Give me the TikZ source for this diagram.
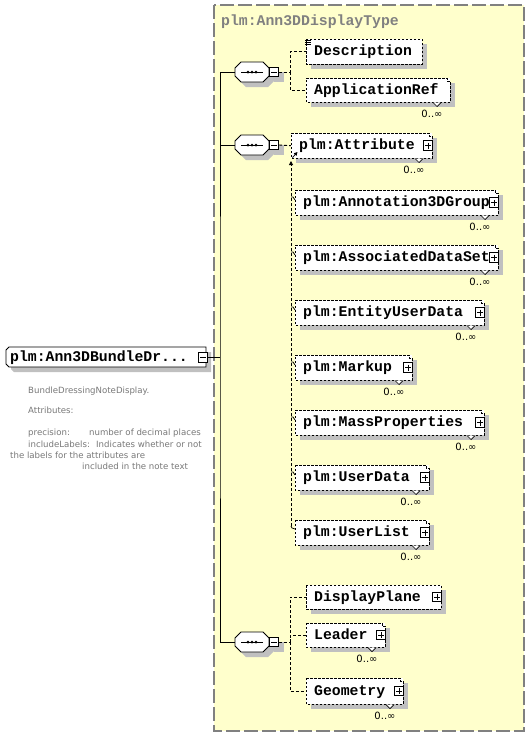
\documentclass[tikz,border=0pt]{standalone}
\usepackage{fontspec}
\newfontfamily\cour{Liberation Mono}
\newfontfamily\dvs{DejaVu Sans}
\usetikzlibrary{arrows.meta}
\definecolor{yel}{HTML}{FFFFCC}
\definecolor{shd}{HTML}{C0C0C0}
\definecolor{gr}{HTML}{808080}
\definecolor{notec}{HTML}{787878}
\tikzset{
  lbl/.style={font=\cour\bfseries\fontsize{14.8}{15}\selectfont, inner sep=0pt, anchor=base west},
  hdr/.style={lbl, text=gr},
  occ/.style={font=\dvs\fontsize{10}{11}\selectfont, inner sep=0pt},
  note/.style={font=\dvs\fontsize{8.6}{9}\selectfont, text=notec, inner sep=0pt, anchor=base west},
  ebox/.style={fill=white, draw=none, inner sep=0pt, anchor=north west, rectangle},
  dsh/.style={dash pattern=on 2.5pt off 1.5pt, line width=0.9pt},
  conn/.style={dash pattern=on 3pt off 2pt, line width=0.9pt},
  pmbox/.style={draw, fill=white, minimum size=9.5pt, inner sep=0pt, line width=0.8pt, rectangle},
  solidl/.style={line width=0.9pt},
}
% element box: name, l, t, r, b, text, multi, plus
\newcommand\elem[8]{%
  \fill[shd] (#2+5,#3+5) rectangle (#4+5,#5+5);
  \node[ebox, minimum width=#4-#2, minimum height=#5-#3] (#1) at (#2,#3) {};
  \ifnum#7=1
    \draw[dsh] (#2,#3) -- (#4-3,#3) -- (#4-3,#3+3) -- (#4,#3+3) -- (#4,#5) -- (#2,#5) -- cycle;
    \draw[line width=0.7pt, fill=white] (#4-17,#5+0.5) -- (#4-13,#5+4.5) -- (#4-9,#5+0.5);
    \node[occ] (#1-o) at (#4-18,#5+12) {0..∞};
  \else
    \draw[dsh] (#2,#3) rectangle (#4,#5);
  \fi
  \node[lbl] (#1-t) at (#2+8,{(#3+#5)/2+4}) {#6};
  \ifnum#8=1
    \node[pmbox] (#1-p) at (#4-4,{(#3+#5)/2}) {};
    \draw[line width=0.8pt] (#4-7,{(#3+#5)/2}) -- (#4-1,{(#3+#5)/2})
                            (#4-4,{(#3+#5)/2-3}) -- (#4-4,{(#3+#5)/2+3});
  \fi
}
% sequence compositor: name, cy
\newcommand\comp[2]{%
  \fill[shd] (246,#2-5) -- (268,#2-5) -- (274,#2+1) -- (274,#2+9) -- (268,#2+15) -- (246,#2+15) -- (240,#2+9) -- (240,#2+1) -- cycle;
  \fill[shd] (274,#2+0) rectangle (284,#2+10);
  \node[inner sep=0pt, minimum width=34pt, minimum height=20pt] (#1) at (252,#2) {};
  \draw[solidl, fill=white] (241,#2-10) -- (263,#2-10) -- (269,#2-4) -- (269,#2+4) -- (263,#2+10) -- (241,#2+10) -- (235,#2+4) -- (235,#2-4) -- cycle;
  \draw[line width=0.8pt] (241,#2) -- (263,#2);
  \fill (248,#2) circle (1.5) (252,#2) circle (1.5) (256,#2) circle (1.5);
  \node[pmbox] (#1-m) at (274,#2) {};
  \draw[line width=0.8pt] (271,#2) -- (277,#2);
}
\begin{document}
\begin{tikzpicture}[x=1pt, y=-1pt]
\useasboundingbox (0,0) rectangle (530,737);
\fill[white] (0,0) rectangle (530,737);
% complex type area
\draw[gr, fill=yel, dash pattern=on 14pt off 4pt, line width=1.1pt] (214,5) rectangle (524,731);
\node[hdr] (hdr) at (221,25.5) {plm:Ann3DDisplayType};

% root element
\fill[shd] (14,352) -- (211,352) -- (211,372) -- (14,372) -- (11,369) -- (11,355) -- cycle;
\node[inner sep=0pt, minimum width=200pt, minimum height=20pt, anchor=north west] (root) at (6,347) {};
\draw[solidl, fill=white] (9,347) -- (206,347) -- (206,367) -- (9,367) -- (6,364) -- (6,350) -- cycle;
\node[lbl] (root-t) at (10,361.5) {plm:Ann3DBundleDr...};
\node[pmbox] (root-m) at (203,357.5) {};
\draw[line width=0.8pt] (200,357.5) -- (206,357.5);

% annotation
\node[note] (n1) at (28,393) {BundleDressingNoteDisplay.};
\node[note] (n2) at (28,413) {Attributes:};
\node[note] (n3) at (28,435.5) {precision:};
\node[note] (n3b) at (89,435.5) {number of decimal places};
\node[note] (n4) at (28,447) {includeLabels:};
\node[note] (n4b) at (96,447) {Indicates whether or not};
\node[note] (n5) at (10,458) {the labels for the attributes are};
\node[note] (n6) at (82,469.5) {included in the note text};

% compositors
\comp{s1}{72}
\comp{s2}{145}
\comp{s3}{642}

% trunk
\coordinate (trunk) at (220,357.5);
\draw[solidl] (root-m.east) -- (trunk);
\draw[solidl] (s1.west) -| (trunk) |- (s3.west);
\draw[solidl] (220,145) -- (s2.west);

% sequence 1
\elem{desc}{306}{39}{422}{64}{Description}{0}{0}
\draw[line width=0.7pt] (305,40.5) -- (311,40.5) (305,42.5) -- (311,42.5) (305,44.5) -- (311,44.5);
\elem{appref}{306}{78}{450}{102}{ApplicationRef}{1}{0}
\draw[conn] (s1-m.east) -- (290,72) |- (desc.west);
\draw[conn] (290,72) |- (appref.west);

% sequence 2
\elem{attr}{291}{133}{432}{158}{plm:Attribute}{1}{1}
\elem{ann}{295}{190}{498}{215}{plm:Annotation3DGroup}{1}{1}
\elem{ads}{295}{245}{498}{270}{plm:AssociatedDataSet}{1}{1}
\elem{eud}{295}{300}{484}{325}{plm:EntityUserData}{1}{1}
\elem{mk}{295}{355}{412}{380}{plm:Markup}{1}{1}
\elem{mp}{295}{410}{484}{435}{plm:MassProperties}{1}{1}
\elem{ud}{295}{465}{429}{490}{plm:UserData}{1}{1}
\elem{ul}{295}{520}{429}{545}{plm:UserList}{1}{1}
\draw[conn] (s2-m.east) -- (attr.west);
\coordinate (vtop) at (291,161);
\coordinate (vbot) at (291,526);
\draw[conn, -{Triangle[length=4pt,width=4pt]}] (vbot) -- (vtop);
\draw[line width=0.8pt, -{Triangle[length=3.5pt,width=3.5pt]}] (292.5,157.5) -- (297.5,152);
\foreach \t in {190,245,300,355,410,465}{
  \draw[line width=0.7pt] (291,\t+7) -- (293,\t+7) -- (295,\t+10);
}
\draw[line width=0.7pt] (vbot) -- (292,528) -- (295,529);

% sequence 3
\elem{dp}{306}{585}{441}{609}{DisplayPlane}{0}{1}
\elem{ld}{306}{623}{385}{647}{Leader}{1}{1}
\elem{geo}{306}{678}{403}{704}{Geometry}{1}{1}
\draw[conn] (s3-m.east) -- (290,642) |- (dp.west);
\draw[conn] (290,642) |- (ld.west);
\draw[conn] (290,642) |- (geo.west);
\end{tikzpicture}
\end{document}
